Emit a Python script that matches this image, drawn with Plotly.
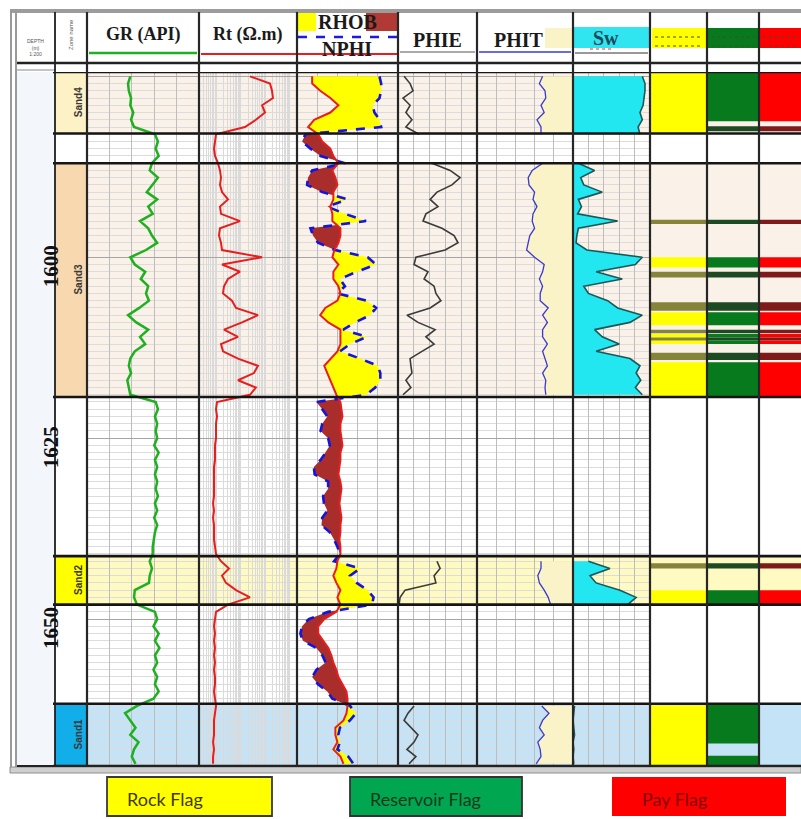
import math
import plotly.graph_objects as go

W, H = 801, 819
NA = None

# ---------------------------------------------------------------- log data
DEPTH = [1575, 1576, 1577, 1578, 1579, 1580, 1581, 1582, 1583, 1584,
         1585, 1586, 1587, 1588, 1589, 1590, 1591, 1592, 1593, 1594,
         1595, 1596, 1597, 1598, 1599, 1600, 1601, 1602, 1603, 1604,
         1605, 1606, 1607, 1608, 1609, 1610, 1611, 1612, 1613, 1614,
         1615, 1616, 1617, 1618, 1619, 1620, 1621, 1622, 1623, 1624,
         1625, 1626, 1627, 1628, 1629, 1630, 1631, 1632, 1633, 1634,
         1635, 1636, 1637, 1638, 1639, 1640, 1641, 1642, 1643, 1644,
         1645, 1646, 1647, 1648, 1649, 1650, 1651, 1652, 1653, 1654,
         1655, 1656, 1657, 1658, 1659, 1660, 1661, 1662, 1663, 1664,
         1665, 1666, 1667, 1668, 1669, 1670]

GR = [58, 55, 56, 59, 58, 62, 59, 63, 91, 95,
      92, 96, 87, 84, 95, 87, 80, 94, 82, 88,
      71, 82, 87, 94, 79, 58, 64, 78, 72, 82,
      79, 83, 70, 55, 66, 82, 71, 78, 64, 58,
      56, 59, 54, 56, 58, 92, 95, 91, 94, 92,
      94, 90, 96, 91, 94, 91, 94, 92, 95, 91,
      94, 90, 94, 91, 89, 88, 88, 84, 87, 84,
      83, 64, 63, 67, 91, 94, 89, 96, 91, 97,
      91, 94, 89, 94, 91, 96, 89, 67, 51, 58,
      65, 58, 69, 63, 60, 65]

RT = [24, 158, 191, 209, 75, 99, 42, 15, 0.99, 0.9,
      0.82, 0.9, 1.19, 1.44, 1.58, 1.44, 1.74, 3.05, 1.44, 1.58,
      9.4, 1.44, 1.31, 1.58, 1.74, 75, 1.74, 9.4, 3.05, 2.1,
      1.91, 4.45, 6.5, 51, 11.4, 2.1, 7.8, 1.58, 1.91, 7.8,
      51, 35, 7.8, 42, 24, 1.09, 0.99, 1.09, 0.99, 0.99,
      0.99, 0.9, 0.9, 0.9, 0.82, 0.82, 0.82, 0.82, 0.82, 0.75,
      0.82, 0.75, 0.82, 0.82, 0.82, 0.9, 0.99, 1.58, 3.35, 1.74,
      2.53, 6.5, 24, 3.05, 0.99, 0.9, 0.82, 0.9, 0.82, 0.9,
      0.82, 0.9, 0.82, 0.9, 0.9, 0.82, 0.9, 0.99, 0.9, 0.82,
      0.82, 0.82, 0.75, 0.82, 0.75, 0.75]

RHOB = [2.10, 2.10, 2.18, 2.28, 2.36, 2.28, 2.12, 2.06, 2.16, 2.20,
        2.28, 2.31, 2.36, 2.30, 2.33, 2.35, 2.31, 2.31, 2.28, 2.30,
        2.30, 2.38, 2.38, 2.36, 2.32, 2.30, 2.36, 2.31, 2.31, 2.36,
        2.38, 2.35, 2.23, 2.18, 2.26, 2.38, 2.38, 2.38, 2.35, 2.28,
        2.22, 2.25, 2.28, 2.31, 2.34, 2.38, 2.39, 2.40, 2.38, 2.38,
        2.39, 2.40, 2.38, 2.38, 2.37, 2.36, 2.38, 2.39, 2.38, 2.37,
        2.38, 2.39, 2.38, 2.38, 2.37, 2.38, 2.38, 2.35, 2.34, 2.31,
        2.34, 2.38, 2.35, 2.38, 2.34, 2.22, 2.16, 2.16, 2.21, 2.26,
        2.29, 2.31, 2.34, 2.36, 2.40, 2.44, 2.45, 2.45, 2.44, 2.41,
        2.33, 2.33, 2.35, 2.31, 2.38, 2.41]

NPHI = [-0.04, -0.05, -0.05, -0.04, 0.00, -0.01, -0.04, -0.05, 0.40, 0.42,
        0.37, 0.31, 0.165, 0.36, 0.385, 0.39, 0.30, 0.15, 0.27, 0.165,
        0.04, 0.37, 0.355, 0.325, 0.225, 0.03, -0.02, 0.095, 0.195, 0.165,
        0.21, 0.035, -0.02, 0.015, 0.105, 0.175, 0.035, 0.135, 0.195, 0.075,
        -0.03, -0.045, -0.045, -0.015, 0.04, 0.335, 0.30, 0.27, 0.30, 0.31,
        0.265, 0.255, 0.28, 0.31, 0.35, 0.345, 0.265, 0.265, 0.295, 0.29,
        0.27, 0.30, 0.305, 0.255, 0.23, 0.21, 0.195, 0.23, 0.075, 0.135,
        0.095, 0.03, -0.005, 0.005, 0.265, 0.38, 0.42, 0.43, 0.415, 0.335,
        0.30, 0.28, 0.335, 0.36, 0.325, 0.27, 0.24, 0.135, 0.10, 0.135,
        0.195, 0.205, 0.195, 0.21, 0.145, 0.115]

PHIE = [0.277, 0.254, 0.243, 0.281, 0.254, 0.270, 0.247, 0.270, 0.220,
        NA, NA, NA,
        0.171, 0.102, 0.064, 0.095, 0.152, 0.178, 0.148, 0.194, 0.205, 0.133,
        0.087, 0.072, 0.121, 0.232, 0.239, 0.186, 0.201, 0.163, 0.156, 0.137,
        0.178, 0.266, 0.224, 0.159, 0.194, 0.163, 0.209, 0.254, 0.251, 0.247,
        0.270, 0.251, 0.281,
        NA, NA, NA, NA, NA, NA, NA, NA, NA, NA, NA,
        NA, NA, NA, NA, NA, NA, NA, NA, NA, NA, NA,
        0.152, 0.140, 0.163, 0.156, 0.273, 0.292, 0.296,
        NA, NA, NA, NA, NA, NA, NA, NA, NA, NA, NA, NA, NA,
        0.239, 0.262, 0.277, 0.251, 0.224, 0.239, 0.266, 0.232, 0.258]

PHIT = [0.19, 0.21, 0.175, 0.17, 0.20, 0.18, 0.225, 0.20, 0.20,
        NA, NA, NA,
        0.19, 0.255, 0.28, 0.275, 0.24, 0.25, 0.225, 0.25, 0.255, 0.24,
        0.27, 0.28, 0.29, 0.24, 0.18, 0.19, 0.21, 0.19, 0.205, 0.205,
        0.155, 0.19, 0.16, 0.19, 0.19, 0.16, 0.19, 0.175, 0.16, 0.19,
        0.17, 0.175, 0.17,
        NA, NA, NA, NA, NA, NA, NA, NA, NA, NA, NA,
        NA, NA, NA, NA, NA, NA, NA, NA, NA, NA, NA,
        0.20, 0.20, 0.22, 0.21, 0.18, 0.155, 0.14,
        NA, NA, NA, NA, NA, NA, NA, NA, NA, NA, NA, NA, NA,
        0.195, 0.15, 0.19, 0.21, 0.18, 0.22, 0.205, 0.20, 0.23]

SW = [0.10, 0.065, 0.065, 0.08, 0.09, 0.13, 0.10, 0.155, 0.13,
      NA, NA, NA,
      0.93, 0.72, 0.90, 0.86, 0.62, 0.93, 0.89, 0.94, 0.42, 0.93,
      0.95, 0.96, 0.82, 0.10, 0.19, 0.70, 0.36, 0.86, 0.80, 0.55,
      0.42, 0.10, 0.26, 0.72, 0.62, 0.40, 0.70, 0.26, 0.13, 0.18,
      0.12, 0.19, 0.10,
      NA, NA, NA, NA, NA, NA, NA, NA, NA, NA, NA,
      NA, NA, NA, NA, NA, NA, NA, NA, NA, NA, NA,
      0.80, 0.52, 0.78, 0.70, 0.39, 0.18, 0.29,
      NA, NA, NA, NA, NA, NA, NA, NA, NA, NA, NA, NA, NA,
      0.98, 0.99, 1.0, 0.99, 0.98, 1.0, 0.99, 1.0, 0.99]

# zones
ZONE_NAMES = ["Sand4", "Sand3", "Sand2", "Sand1"]
ZONE_TOP = [1574.4, 1587.0, 1641.3, 1661.7]
ZONE_BASE = [1582.9, 1619.3, 1648.0, 1670.3]
ZONE_LABEL_FILL = ["#FDF1C6", "#F8D8AE", "#FFFF00", "#12AEEA"]
ZONE_TRACK_FILL = ["#FAF2E8", "#FAF2E8", "#FFF9C2", "#C4E3F6"]

# flag intervals (top, base)
ROCK_ON = [(1574.4, 1582.9), (1600.0, 1601.4), (1607.6, 1609.4), (1610.6, 1611.1),
           (1611.5, 1612.0), (1614.5, 1619.3), (1646.0, 1647.9), (1661.7, 1670.3)]
ROCK_THIN = [(1594.8, 1595.4), (1602.0, 1602.8), (1606.2, 1607.4), (1610.0, 1610.5),
             (1611.1, 1611.5), (1613.2, 1614.2), (1642.3, 1643.0)]
RES_ON = [(1574.4, 1581.2), (1600.0, 1601.4), (1607.6, 1609.4), (1610.6, 1611.1),
          (1611.5, 1612.0), (1614.5, 1619.3), (1646.0, 1647.9), (1661.7, 1667.2),
          (1668.9, 1670.3)]
RES_THIN = [(1581.9, 1582.6), (1594.8, 1595.4), (1602.0, 1602.8), (1606.2, 1607.4),
            (1610.0, 1610.5), (1611.1, 1611.5), (1613.2, 1614.2), (1642.3, 1643.0)]
PAY_ON = [(1574.4, 1581.2), (1600.0, 1601.4), (1607.6, 1609.4), (1610.6, 1611.1),
          (1611.5, 1612.0), (1614.5, 1619.3), (1646.0, 1647.9)]
PAY_THIN = [(1581.9, 1582.6), (1594.8, 1595.4), (1602.0, 1602.8), (1606.2, 1607.4),
            (1610.0, 1610.5), (1611.1, 1611.5), (1613.2, 1614.2), (1642.3, 1643.0)]

DEPTH_LABELS = [1600, 1625, 1650]

# curve scales
GR_RANGE = [0, 150]
RT_RANGE = [0.2, 2000]
RHOB_RANGE = [1.95, 2.95]
NPHI_RANGE = [0.45, -0.15]
PHIE_RANGE = [0.3, 0.0]
PHIT_RANGE = [0.6, 0.0]
SW_RANGE = [1.0, 0.0]

# ---------------------------------------------------------------- geometry
TRACK_EDGES = [87, 199, 297, 398, 477, 573, 650, 707, 759, 801]
DATA_TOP, DATA_BOTTOM = 72, 766
DEPTH_VIEW = [1670.3, 1574.4]


def px(x):
    return x / W


def py(y):
    return 1 - y / H


def segments(vals):
    segs, cur = [], []
    for d, v in zip(DEPTH, vals):
        if v is None:
            if cur:
                segs.append(cur)
                cur = []
        else:
            cur.append((d, v))
    if cur:
        segs.append(cur)
    return segs


def crossover_runs(depth, a, b):
    """Split the area between curves a and b into runs of constant sign."""
    pts = []
    for i in range(len(depth)):
        pts.append((depth[i], a[i], b[i]))
        if i < len(depth) - 1:
            s0 = b[i] - a[i]
            s1 = b[i + 1] - a[i + 1]
            if s0 * s1 < 0:
                t = s0 / (s0 - s1)
                dc = depth[i] + t * (depth[i + 1] - depth[i])
                xc = a[i] + t * (a[i + 1] - a[i])
                pts.append((dc, xc, xc))
    runs, cur = [], [pts[0]]
    for p in pts[1:]:
        cur.append(p)
        if abs(p[2] - p[1]) < 1e-12:
            runs.append(cur)
            cur = [p]
    if len(cur) > 1:
        runs.append(cur)
    out = []
    for run in runs:
        sgn = sum(p[2] - p[1] for p in run)
        xs = [p[1] for p in run] + [p[2] for p in reversed(run)]
        ys = [p[0] for p in run] + [p[0] for p in reversed(run)]
        out.append((sgn, xs, ys))
    return out


fig = go.Figure()

# GR
fig.add_trace(go.Scatter(x=GR, y=DEPTH, xaxis="x", yaxis="y", mode="lines",
                         line=dict(color="#1FB01F", width=2.5), hoverinfo="skip"))
# Rt
fig.add_trace(go.Scatter(x=RT, y=DEPTH, xaxis="x2", yaxis="y", mode="lines",
                         line=dict(color="#E81E1E", width=2), hoverinfo="skip"))

# density / neutron on a shared normalised track
rhob_f = [(v - RHOB_RANGE[0]) / (RHOB_RANGE[1] - RHOB_RANGE[0]) for v in RHOB]
nphi_f = [(NPHI_RANGE[0] - v) / (NPHI_RANGE[0] - NPHI_RANGE[1]) for v in NPHI]
for sgn, xs, ys in crossover_runs(DEPTH, rhob_f, nphi_f):
    fig.add_trace(go.Scatter(x=xs, y=ys, xaxis="x3", yaxis="y", mode="lines",
                             fill="toself", line=dict(width=0),
                             fillcolor="#FFFF00" if sgn > 0 else "#A92E2B",
                             hoverinfo="skip"))
fig.add_trace(go.Scatter(x=nphi_f, y=DEPTH, xaxis="x3", yaxis="y", mode="lines",
                         line=dict(color="#1414E0", width=2.6, dash="dash"),
                         hoverinfo="skip"))
fig.add_trace(go.Scatter(x=rhob_f, y=DEPTH, xaxis="x3", yaxis="y", mode="lines",
                         line=dict(color="#E81E1E", width=2), hoverinfo="skip"))

# PHIE
fig.add_trace(go.Scatter(x=PHIE, y=DEPTH, xaxis="x4", yaxis="y", mode="lines",
                         line=dict(color="#3A3A3A", width=1.6), connectgaps=False,
                         hoverinfo="skip"))

# PHIT with shading towards zero
for seg in segments(PHIT):
    xs = [v for _, v in seg] + [PHIT_RANGE[1], PHIT_RANGE[1]]
    ys = [d for d, _ in seg] + [seg[-1][0], seg[0][0]]
    fig.add_trace(go.Scatter(x=xs, y=ys, xaxis="x5", yaxis="y", mode="lines",
                             fill="toself", fillcolor="#FBF3C8", line=dict(width=0),
                             hoverinfo="skip"))
fig.add_trace(go.Scatter(x=PHIT, y=DEPTH, xaxis="x5", yaxis="y", mode="lines",
                         line=dict(color="#3A3AD0", width=1.3), connectgaps=False,
                         hoverinfo="skip"))

# Sw with shading from Sw = 1
for seg in segments(SW):
    xs = [v for _, v in seg] + [SW_RANGE[0], SW_RANGE[0]]
    ys = [d for d, _ in seg] + [seg[-1][0], seg[0][0]]
    fig.add_trace(go.Scatter(x=xs, y=ys, xaxis="x6", yaxis="y", mode="lines",
                             fill="toself", fillcolor="#22E6F0", line=dict(width=0),
                             hoverinfo="skip"))
fig.add_trace(go.Scatter(x=SW, y=DEPTH, xaxis="x6", yaxis="y", mode="lines",
                         line=dict(color="#1C5757", width=1.6), connectgaps=False,
                         hoverinfo="skip"))

# ---------------------------------------------------------------- axes
rt_grid = [m * 10 ** e for e in range(-1, 4) for m in range(1, 10)
           if RT_RANGE[0] <= m * 10 ** e <= RT_RANGE[1]]
track_specs = [
    ("xaxis", GR_RANGE, [30, 60, 90, 120], "linear"),
    ("xaxis2", [math.log10(RT_RANGE[0]), math.log10(RT_RANGE[1])], rt_grid, "log"),
    ("xaxis3", [0, 1], [0.2, 0.4, 0.6, 0.8], "linear"),
    ("xaxis4", PHIE_RANGE, [0.06, 0.12, 0.18, 0.24], "linear"),
    ("xaxis5", PHIT_RANGE, [0.12, 0.24, 0.36, 0.48], "linear"),
    ("xaxis6", SW_RANGE, [0.2, 0.4, 0.6, 0.8], "linear"),
    ("xaxis7", [0, 1], None, "linear"),
    ("xaxis8", [0, 1], None, "linear"),
    ("xaxis9", [0, 1], None, "linear"),
]
axes = {}
for i, (name, rng, grid, typ) in enumerate(track_specs):
    ax = dict(domain=[px(TRACK_EDGES[i]), px(TRACK_EDGES[i + 1])], anchor="y",
              range=rng, type=typ, showticklabels=False, ticks="", zeroline=False,
              showline=False, fixedrange=True, showgrid=grid is not None)
    if grid is not None:
        ax.update(tickmode="array", tickvals=grid,
                  gridcolor="#DADADA" if typ == "log" else "#BDBDBD",
                  gridwidth=1 if typ == "log" else 1.3)
    axes[name] = ax

axes["yaxis"] = dict(domain=[py(DATA_BOTTOM), py(DATA_TOP)], range=DEPTH_VIEW,
                     anchor="x", showticklabels=False, ticks="", zeroline=False,
                     showline=False, fixedrange=True, tick0=1600, dtick=25,
                     showgrid=True, gridcolor="#A5A5A5", gridwidth=1.4,
                     minor=dict(dtick=1, showgrid=True, gridcolor="#DCDCDC",
                                gridwidth=1, ticks=""))
axes["yaxis2"] = dict(overlaying="y", anchor="free", position=px(17), side="left",
                      range=DEPTH_VIEW, showticklabels=False, ticks="inside",
                      ticklen=4, tickwidth=1, tickcolor="#444", tick0=1600, dtick=3,
                      showgrid=False, zeroline=False, showline=False, fixedrange=True)
axes["yaxis3"] = dict(overlaying="y", anchor="free", position=px(53), side="right",
                      range=DEPTH_VIEW, showticklabels=False, ticks="inside",
                      ticklen=4, tickwidth=1, tickcolor="#444", tick0=1600, dtick=3,
                      showgrid=False, zeroline=False, showline=False, fixedrange=True)

# ---------------------------------------------------------------- shapes
shapes = []


def rect_px(x0, y0, x1, y1, fill, line=None, lw=0, layer="above"):
    shapes.append(dict(type="rect", xref="paper", yref="paper",
                       x0=px(x0), x1=px(x1), y0=py(y0), y1=py(y1),
                       fillcolor=fill, line=dict(color=line or fill, width=lw),
                       layer=layer))


def line_px(x0, y0, x1, y1, color, width, dash="solid", layer="above"):
    shapes.append(dict(type="line", xref="paper", yref="paper",
                       x0=px(x0), x1=px(x1), y0=py(y0), y1=py(y1),
                       line=dict(color=color, width=width, dash=dash), layer=layer))


# depth track background
rect_px(17, DATA_TOP, 55, DATA_BOTTOM, "#F3F7FC", layer="below")

# zone backgrounds and labels
for name, top, base, lab, trk in zip(ZONE_NAMES, ZONE_TOP, ZONE_BASE,
                                     ZONE_LABEL_FILL, ZONE_TRACK_FILL):
    shapes.append(dict(type="rect", xref="paper", yref="y", x0=px(87), x1=1,
                       y0=top, y1=base, fillcolor=trk, line=dict(width=0),
                       layer="below"))
    shapes.append(dict(type="rect", xref="paper", yref="y", x0=px(55), x1=px(87),
                       y0=top, y1=base, fillcolor=lab, line=dict(width=0),
                       layer="below"))

# flag columns
flag_cols = [
    (650, 707, ROCK_ON, "#FFFF00", ROCK_THIN, "#85843A"),
    (707, 759, RES_ON, "#067A1C", RES_THIN, "#1D4A22"),
    (759, 801, PAY_ON, "#FF0000", PAY_THIN, "#7E1A1A"),
]
for x0, x1, on, on_col, thin, thin_col in flag_cols:
    for top, base in on:
        shapes.append(dict(type="rect", xref="paper", yref="y", x0=px(x0), x1=px(x1),
                           y0=top, y1=base, fillcolor=on_col, line=dict(width=0),
                           layer="above"))
    for top, base in thin:
        shapes.append(dict(type="rect", xref="paper", yref="y", x0=px(x0), x1=px(x1),
                           y0=top, y1=base, fillcolor=thin_col, line=dict(width=0),
                           layer="above"))

# zone boundaries
for d in sorted(set(ZONE_TOP + ZONE_BASE)):
    shapes.append(dict(type="line", xref="paper", yref="y", x0=px(53), x1=1,
                       y0=d, y1=d, line=dict(color="#151515", width=2.6),
                       layer="above"))

# frame
rect_px(10, 9, 801, 13, "#9C9C9C")
line_px(11, 10, 11, 773, "#9A9A9A", 2)
line_px(16, 10, 16, 773, "#9A9A9A", 2)
rect_px(10, 767, 801, 773, "#CFCFCF", "#8E8E8E", 1)
line_px(17, 63, 801, 63, "#222222", 2.6)
line_px(17, 70, 55, 70, "#8A8A8A", 1.2)
line_px(17, DATA_BOTTOM, 801, DATA_BOTTOM, "#222222", 2.2)

# header decorations
rect_px(298, 13, 316, 31, "#FFFF00")
rect_px(366, 13, 398, 31, "#B13A34")
line_px(298, 37, 398, 37, "#1A1AE0", 2.6, dash="dash")
line_px(89, 53, 197, 53, "#1FB01F", 2.5)
line_px(201, 54, 397, 54, "#E81E1E", 2)
line_px(400, 52, 475, 52, "#555555", 1)
rect_px(545, 28, 572, 48, "#FBF3C8")
line_px(479, 52, 571, 52, "#3A3AD0", 1.3)
rect_px(574, 27, 649, 48, "#30E4F0")
line_px(575, 53, 648, 53, "#333333", 1)
line_px(590, 49, 614, 49, "#E03030", 1, dash="dot")
rect_px(652, 28, 706, 48, "#FFFF00")
rect_px(708, 28, 758, 48, "#067A1C")
rect_px(760, 28, 801, 48, "#FF0000")
for x0, x1 in [(655, 703), (711, 755), (763, 799)]:
    line_px(x0, 37, x1, 37, "#4A4A2A", 1, dash="dot")
    line_px(x0, 46, x1, 46, "#4A4A2A", 1, dash="dot")

# track dividers
line_px(55, 12, 55, DATA_BOTTOM, "#1E1E1E", 1.8)
for x in TRACK_EDGES[:-1]:
    line_px(x, 12, x, DATA_BOTTOM, "#262626", 2.2)

# legend boxes
LEGEND = [("Rock Flag", "#FFFF00", "#3F3800", 107, 272, "#3A3A3A", 125),
          ("Reservoir Flag", "#00A650", "#163819", 350, 522, "#333333", 368),
          ("Pay Flag", "#FF0000", "#7E0000", 612, 786, None, 640)]
for text, fill, tcol, x0, x1, border, tx in LEGEND:
    rect_px(x0, 777, x1, 816, fill, border or fill, 1.8 if border else 0)

fig.update_layout(shapes=shapes)

# ---------------------------------------------------------------- text
ann = []


def text_px(x, y, s, size, color="#1A1A1A", family="Liberation Serif", angle=0,
            xanchor="center"):
    ann.append(dict(xref="paper", yref="paper", x=px(x), y=py(y), text=s,
                    showarrow=False, xanchor=xanchor, yanchor="middle",
                    textangle=angle, font=dict(family=family, size=size, color=color)))


text_px(143, 35, "<b>GR (API)</b>", 18)
text_px(248, 35, "<b>Rt (Ω.m)</b>", 18)
text_px(347, 22, "<b>RHOB</b>", 20)
text_px(347, 49, "<b>NPHI</b>", 20)
text_px(437, 40, "<b>PHIE</b>", 20)
text_px(519, 40, "<b>PHIT</b>", 20)
text_px(606, 38, "<b>Sw</b>", 20, color="#1E4B5A")
text_px(35, 47, "DEPTH<br>(m)<br>1:200", 5, color="#555555", family="Liberation Sans")
text_px(71, 35, "Zone name", 6, color="#555555", family="Liberation Sans", angle=-90)

for d in DEPTH_LABELS:
    ann.append(dict(xref="paper", yref="y", x=px(37), y=d, text=f"<b>{d}</b>",
                    showarrow=False, textangle=-90, yshift=-9,
                    font=dict(family="Liberation Serif", size=21, color="#111111")))

for name, top, base in zip(ZONE_NAMES, ZONE_TOP, ZONE_BASE):
    ann.append(dict(xref="paper", yref="y", x=px(71), y=(top + base) / 2,
                    text=f"<b>{name}</b>", showarrow=False, textangle=-90,
                    font=dict(family="Liberation Sans", size=10, color="#3A3A3A")))

for text, fill, tcol, x0, x1, border, tx in LEGEND:
    text_px(tx, 799, text, 18, color=tcol, family="Lato", xanchor="left")

fig.update_layout(
    width=W, height=H, margin=dict(l=0, r=0, t=0, b=0),
    paper_bgcolor="white", plot_bgcolor="rgba(0,0,0,0)",
    showlegend=False, annotations=ann, **axes,
)

fig.write_html("out.html")
